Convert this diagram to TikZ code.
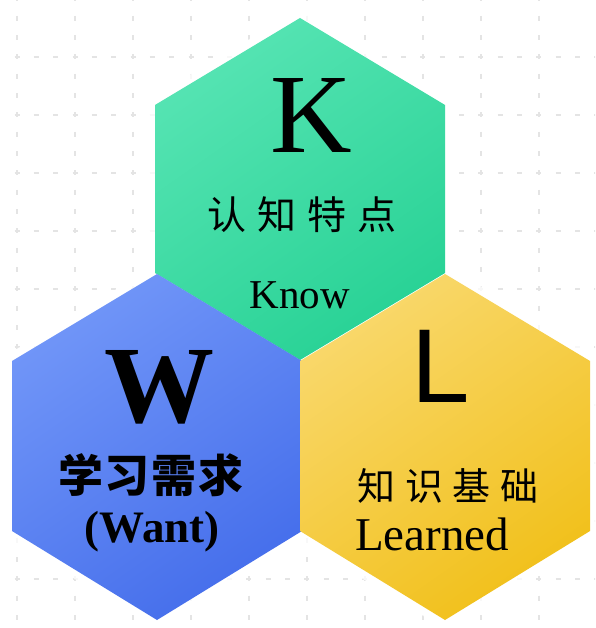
\documentclass[tikz,border=0pt]{standalone}
\usepackage{fontspec}
\setmainfont{Liberation Serif}
\newfontfamily\cjk{Noto Sans CJK SC}
\newfontfamily\sansL{Liberation Sans}
\definecolor{gridc}{HTML}{E4E4E4}
\definecolor{gLight}{HTML}{56E4B3}
\definecolor{gDark}{HTML}{28D295}
\definecolor{bLight}{HTML}{7196F8}
\definecolor{bDark}{HTML}{456EEB}
\definecolor{yLight}{HTML}{F9D86C}
\definecolor{yDark}{HTML}{F1C01A}
\tikzset{
  gridline/.style={gridc, line width=1.4pt, dash pattern=on 5pt off 14.33pt},
  glow/.style={white, line width=16pt, opacity=0.75, line join=round},
  txt/.style={inner sep=0pt, outer sep=0pt, text=black},
}
\begin{document}
\begin{tikzpicture}[x=1pt,y=-1pt]
\useasboundingbox (0,0) rectangle (595,628);
\fill[white] (0,0) rectangle (595,628);
\begin{scope}
\clip (0,0) rectangle (595,628);
\foreach \x in {17,75,...,597} \draw[gridline] (\x,-3.5) -- (\x,640);
\foreach \y in {57,115,...,579} \draw[gridline] (-4.8,\y) -- (600,\y);
% glow
\draw[glow] (300,18) -- (445,105) -- (445,273) -- (300,360) -- (155,273) -- (155,105) -- cycle;
\draw[glow] (157,274) -- (302,361) -- (302,531) -- (157,620) -- (12,531) -- (12,361) -- cycle;
\draw[glow] (445,274) -- (590,361) -- (590,531) -- (445,620) -- (300,531) -- (300,361) -- cycle;
\end{scope}
% hexagons
\shade[top color=gLight, bottom color=gDark, shading angle=35]
  (300,18) -- (445,105) -- (445,273) -- (300,360) -- (155,273) -- (155,105) -- cycle;
\shade[top color=bLight, bottom color=bDark, shading angle=35]
  (157,274) -- (302,361) -- (302,531) -- (157,620) -- (12,531) -- (12,361) -- cycle;
\shade[top color=yLight, bottom color=yDark, shading angle=35]
  (445,274) -- (590,361) -- (590,531) -- (445,620) -- (300,531) -- (300,361) -- cycle;
% K
\node[txt, anchor=base] (k) at (311,153) {\fontsize{113}{113}\selectfont K};
\node[txt, anchor=center] (kcn) at (302,215) {\fontsize{39}{39}\selectfont\cjk 认\hspace{11pt}知\hspace{11pt}特\hspace{11pt}点};
\node[txt, anchor=base] (know) at (300,308) {\fontsize{41}{41}\selectfont Know};
% W
\node[txt, anchor=base] (w) at (159,422) {\fontsize{110}{110}\selectfont\bfseries W};
\node[txt, anchor=center] (wcn) at (151,475) {\fontsize{45}{45}\selectfont\cjk\bfseries 学\hspace{2pt}习\hspace{2pt}需\hspace{2pt}求};
\node[txt, anchor=base] (want) at (152,542) {\fontsize{45}{45}\selectfont\bfseries (Want)};
% L
\node[txt, anchor=base] (l) at (441,402) {\fontsize{105}{105}\selectfont\sansL L};
\node[txt, anchor=center] (lcn) at (448,486) {\fontsize{38}{38}\selectfont\cjk 知\hspace{10pt}识\hspace{10pt}基\hspace{10pt}础};
\node[txt, anchor=base] (learned) at (432,550) {\fontsize{47}{47}\selectfont Learned};
\end{tikzpicture}
\end{document}
